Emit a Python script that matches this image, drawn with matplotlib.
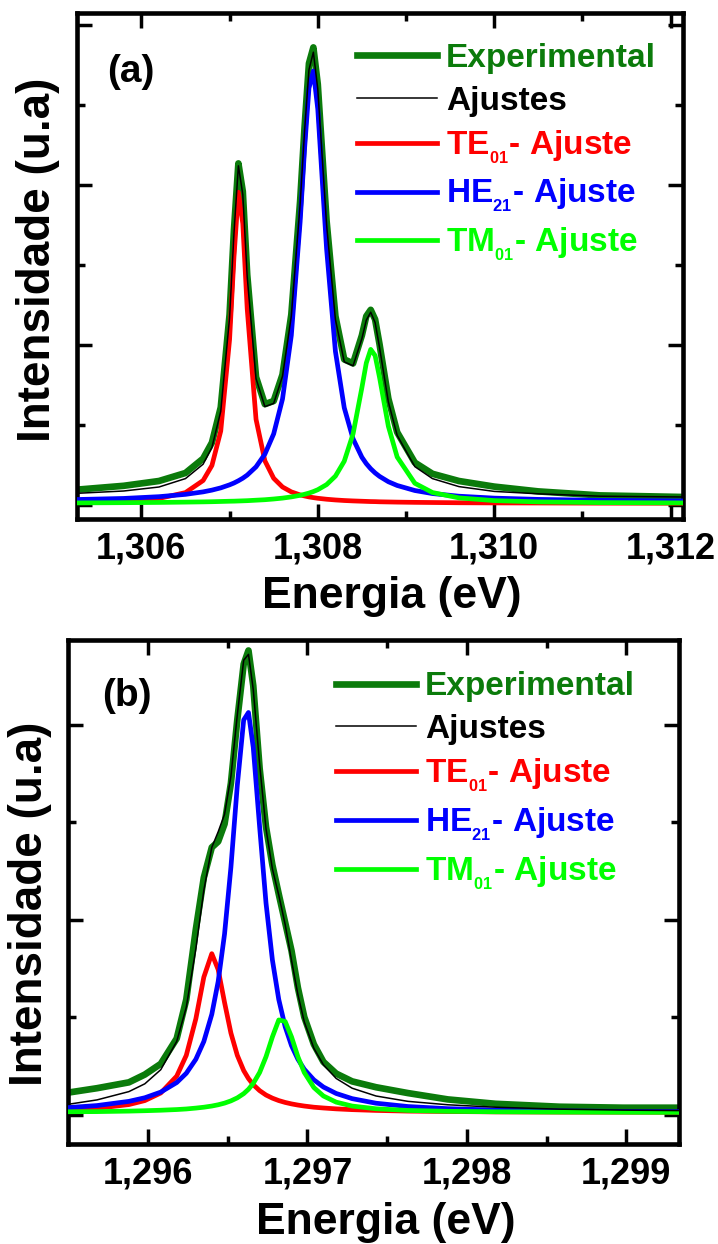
import matplotlib
matplotlib.use("Agg")
import matplotlib.pyplot as plt
from matplotlib.ticker import FixedLocator, FuncFormatter

plt.rcParams['font.family'] = ['Liberation Sans', 'DejaVu Sans']
plt.rcParams['font.weight'] = 'bold'
plt.rcParams['axes.labelweight'] = 'bold'
plt.rcParams['mathtext.fontset'] = 'custom'
plt.rcParams['mathtext.rm'] = 'Liberation Sans:bold'
plt.rcParams['mathtext.it'] = 'Liberation Sans:bold'
plt.rcParams['mathtext.bf'] = 'Liberation Sans:bold'
plt.rcParams['mathtext.default'] = 'regular'

# ---------------- panel (a) ----------------
energy_a = [1.30525, 1.30580, 1.30620, 1.30650, 1.30670, 1.30680, 1.30690, 1.30700,
            1.30705, 1.30710, 1.30715, 1.30720, 1.30730, 1.30740, 1.30750, 1.30760,
            1.30770, 1.30780, 1.30785, 1.30790, 1.30795, 1.30800, 1.30810, 1.30820,
            1.30830, 1.30840, 1.30850, 1.30855, 1.30860, 1.30865, 1.30870, 1.30880,
            1.30890, 1.30910, 1.30930, 1.30960, 1.31000, 1.31050, 1.31120, 1.31215]
exp_a = [0.19, 0.24, 0.30, 0.40, 0.58, 0.78, 1.22, 2.38, 3.44, 4.27, 3.92, 2.88, 1.60,
         1.26, 1.30, 1.63, 2.38, 3.80, 4.72, 5.52, 5.72, 5.26, 3.55, 2.36, 1.82, 1.77,
         2.12, 2.36, 2.44, 2.32, 2.01, 1.33, 0.91, 0.53, 0.39, 0.30, 0.23, 0.17, 0.12, 0.10]
fit_a = [0.145, 0.175, 0.225, 0.33, 0.51, 0.72, 1.17, 2.34, 3.40, 4.24, 3.88, 2.85, 1.58,
         1.23, 1.27, 1.61, 2.36, 3.76, 4.67, 5.44, 5.66, 5.20, 3.50, 2.32, 1.79, 1.74,
         2.08, 2.31, 2.41, 2.28, 1.97, 1.29, 0.87, 0.48, 0.33, 0.23, 0.17, 0.14, 0.11, 0.10]
te_a = [0.036, 0.050, 0.082, 0.155, 0.306, 0.494, 0.925, 2.067, 3.102, 3.91, 3.517, 2.451,
        1.071, 0.553, 0.334, 0.225, 0.164, 0.126, 0.113, 0.101, 0.092, 0.084, 0.072, 0.063,
        0.056, 0.051, 0.047, 0.045, 0.043, 0.042, 0.040, 0.038, 0.036, 0.033, 0.031, 0.028,
        0.026, 0.025, 0.023, 0.022]
he_a = [0.068, 0.082, 0.104, 0.133, 0.164, 0.186, 0.214, 0.252, 0.275, 0.303, 0.335, 0.374,
        0.477, 0.635, 0.889, 1.325, 2.12, 3.54, 4.45, 5.21, 5.425, 4.95, 3.20, 1.92, 1.216,
        0.827, 0.597, 0.517, 0.453, 0.401, 0.358, 0.291, 0.244, 0.181, 0.143, 0.110, 0.086,
        0.070, 0.058, 0.051]
tm_a = [0.026, 0.029, 0.032, 0.036, 0.039, 0.041, 0.044, 0.047, 0.048, 0.050, 0.052, 0.054,
        0.060, 0.066, 0.075, 0.086, 0.101, 0.121, 0.134, 0.149, 0.168, 0.191, 0.255, 0.361,
        0.547, 0.889, 1.466, 1.775, 1.945, 1.868, 1.596, 0.985, 0.600, 0.272, 0.156, 0.089,
        0.055, 0.039, 0.030, 0.026]
xticks_a = [1.306, 1.308, 1.310, 1.312]
xminor_a = [1.307, 1.309, 1.311]
yticks_a = [0, 2, 4, 6]
yminor_a = [1, 3, 5]
xlim_a = (1.30527, 1.31214)
ylim_a = (-0.175, 6.154)

# ---------------- panel (b) ----------------
energy_b = [1.29548, 1.29568, 1.29588, 1.29598, 1.29608, 1.29618, 1.29624, 1.29630,
            1.29635, 1.29640, 1.29644, 1.29648, 1.29652, 1.29656, 1.29660, 1.29663,
            1.29666, 1.29670, 1.29674, 1.29678, 1.29682, 1.29686, 1.29690, 1.29694,
            1.29698, 1.29704, 1.29710, 1.29718, 1.29728, 1.29743, 1.29763, 1.29788,
            1.29818, 1.29858, 1.29898, 1.29935]
exp_b = [0.22, 0.27, 0.33, 0.41, 0.52, 0.78, 1.18, 1.90, 2.43, 2.74, 2.80, 2.98, 3.40,
         4.05, 4.62, 4.76, 4.40, 3.55, 2.95, 2.56, 2.26, 1.97, 1.68, 1.30, 1.00, 0.72,
         0.54, 0.42, 0.34, 0.28, 0.22, 0.155, 0.11, 0.08, 0.07, 0.07]
fit_b = [0.10, 0.15, 0.235, 0.315, 0.46, 0.75, 1.10, 1.70, 2.30, 2.74, 2.90, 3.08, 3.47,
         4.10, 4.66, 4.72, 4.36, 3.59, 2.93, 2.52, 2.25, 1.95, 1.58, 1.23, 0.95, 0.68,
         0.51, 0.37, 0.27, 0.19, 0.135, 0.10, 0.075, 0.055, 0.045, 0.04]
te_b = [0.047, 0.064, 0.102, 0.143, 0.221, 0.394, 0.607, 0.982, 1.409, 1.65, 1.487, 1.149,
        0.835, 0.607, 0.451, 0.369, 0.306, 0.245, 0.200, 0.168, 0.143, 0.124, 0.109, 0.097,
        0.087, 0.075, 0.067, 0.058, 0.050, 0.042, 0.035, 0.031, 0.027, 0.025, 0.024, 0.023]
he_b = [0.069, 0.092, 0.135, 0.172, 0.230, 0.328, 0.423, 0.567, 0.749, 1.028, 1.364, 1.852,
        2.538, 3.377, 4.047, 4.124, 3.766, 2.950, 2.169, 1.586, 1.180, 0.901, 0.706, 0.567,
        0.464, 0.356, 0.282, 0.216, 0.163, 0.116, 0.082, 0.060, 0.046, 0.037, 0.032, 0.029]
tm_b = [0.028, 0.030, 0.035, 0.039, 0.044, 0.051, 0.057, 0.066, 0.075, 0.087, 0.100, 0.117,
        0.140, 0.171, 0.214, 0.259, 0.319, 0.431, 0.593, 0.796, 0.970, 0.955, 0.796, 0.593,
        0.431, 0.277, 0.190, 0.127, 0.087, 0.059, 0.042, 0.033, 0.028, 0.025, 0.023, 0.022]
xticks_b = [1.296, 1.297, 1.298, 1.299]
xminor_b = [1.2965, 1.2975, 1.2985]
yticks_b = [0, 2, 4]
yminor_b = [1, 3]
xlim_b = (1.2955, 1.29933)
ylim_b = (-0.306, 4.867)

DARK_GREEN = '#0b7b0b'
LABELS = ['Experimental', 'Ajustes', 'TE$_{_{01}}$- Ajuste', 'HE$_{_{21}}$- Ajuste',
          'TM$_{_{01}}$- Ajuste']

comma_fmt = FuncFormatter(lambda v, pos: f"{v:.3f}".replace('.', ','))


def draw_panel(ax, energy, exp, fit, te, he, tm, xlim, ylim, xt, xm, yt, ym,
               tag, tag_pos, leg_anchor, ylabel_y):
    h_exp, = ax.plot(energy, exp, color=DARK_GREEN, lw=4.8, zorder=2,
                     solid_joinstyle='round')
    h_te, = ax.plot(energy, te, color='#ff0000', lw=3.4, zorder=3,
                    solid_joinstyle='round')
    h_he, = ax.plot(energy, he, color='#0000ff', lw=3.4, zorder=4,
                    solid_joinstyle='round')
    h_tm, = ax.plot(energy, tm, color='#00ff00', lw=3.4, zorder=5,
                    solid_joinstyle='round')
    h_fit, = ax.plot(energy, fit, color='black', lw=1.1, zorder=6)

    ax.set_xlim(*xlim)
    ax.set_ylim(*ylim)
    ax.xaxis.set_major_locator(FixedLocator(xt))
    ax.xaxis.set_minor_locator(FixedLocator(xm))
    ax.yaxis.set_major_locator(FixedLocator(yt))
    ax.yaxis.set_minor_locator(FixedLocator(ym))
    ax.xaxis.set_major_formatter(comma_fmt)

    ax.tick_params(which='major', direction='in', length=11, width=2.5,
                   top=True, right=True, labelsize=26, pad=9)
    ax.tick_params(which='minor', direction='in', length=6, width=2.5,
                   top=True, right=True)
    ax.tick_params(axis='y', which='both', labelleft=False)
    for lbl in ax.get_xticklabels():
        lbl.set_fontweight('bold')
    for s in ax.spines.values():
        s.set_linewidth(3.3)

    ax.set_xlabel('Energia (eV)', fontsize=32, fontweight='bold', labelpad=7)
    ax.xaxis.label.set_x(0.52)
    ax.set_ylabel('Intensidade (u.a)', fontsize=33, fontweight='bold', labelpad=12)
    ax.yaxis.label.set_y(ylabel_y)

    ax.text(tag_pos[0], tag_pos[1], tag, transform=ax.transAxes, fontsize=28,
            fontweight='bold', ha='left', va='center')

    ax.legend([h_exp, h_fit, h_te, h_he, h_tm], LABELS, loc='upper left',
              bbox_to_anchor=leg_anchor, frameon=False, fontsize=24,
              handlelength=2.4, handletextpad=0.27, labelspacing=0.35,
              borderpad=0, borderaxespad=0, labelcolor='linecolor')


fig = plt.figure(figsize=(7.18, 12.44), dpi=100)
ax_a = fig.add_axes([0.1072, 0.5828, 0.8440, 0.4070])
ax_b = fig.add_axes([0.0951, 0.0801, 0.8506, 0.4054])

draw_panel(ax_a, energy_a, exp_a, fit_a, te_a, he_a, tm_a, xlim_a, ylim_a,
           xticks_a, xminor_a, yticks_a, yminor_a, '(a)', (0.05, 0.883),
           (0.462, 0.940), 0.512)
draw_panel(ax_b, energy_b, exp_b, fit_b, te_b, he_b, tm_b, xlim_b, ylim_b,
           xticks_b, xminor_b, yticks_b, yminor_b, '(b)', (0.055, 0.889),
           (0.438, 0.938), 0.476)

fig.savefig('out.png', dpi=100)
